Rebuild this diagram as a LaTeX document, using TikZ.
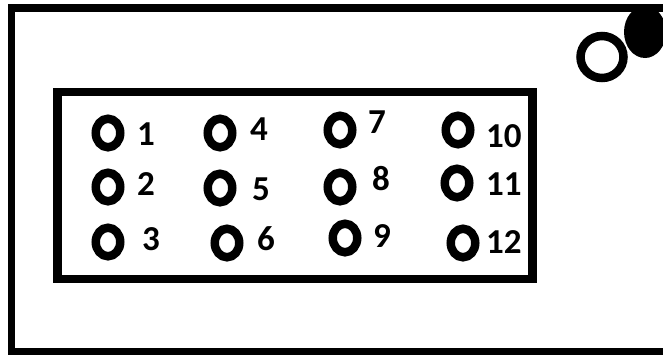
\documentclass[tikz,border=0pt]{standalone}
\usepackage{fontspec}
\setmainfont{Carlito}
\usetikzlibrary{shapes.geometric}

\begin{document}
\begin{tikzpicture}[
        x=1pt, y=-1pt,
        board/.style={draw, line width=7.5pt},
        panel/.style={draw, line width=8.5pt},
        pin/.style={
            ellipse, draw, line width=8.5pt, fill=white,
            minimum width=24.5pt, minimum height=28.5pt, inner sep=0pt
        },
        num/.style={
            font=\fontsize{35}{40}\selectfont\bfseries, inner sep=0pt, anchor=base west
        },
        ring/.style={
            ellipse, draw, line width=8.5pt, minimum width=43pt, minimum height=42pt, inner sep=0pt
        },
        dot/.style={
            ellipse, fill=black, minimum width=42pt, minimum height=52pt, inner sep=0pt
        }
    ]

    \clip (0,0) rectangle (663,356);
    \useasboundingbox (0,0) rectangle (663,356);

    % Outer board
    \draw[board] (11.5,8) rectangle (680,351.5);

    % Connector panel
    \draw[panel] (57.5,92) rectangle (532.5,279);

    % Pins 1-3
    \node[pin] (p1) at (108,133) {};
    \node[pin] (p2) at (108,187) {};
    \node[pin] (p3) at (108,242) {};
    \node[num] (n1) at (137,145) {1};
    \node[num] (n2) at (137,195) {2};
    \node[num] (n3) at (142,250) {3};

    % Pins 4-6
    \node[pin] (p4) at (220,133) {};
    \node[pin] (p5) at (220,188) {};
    \node[pin] (p6) at (227,243) {};
    \node[num] (n4) at (250,140) {4};
    \node[num] (n5) at (252,200) {5};
    \node[num] (n6) at (257,250) {6};

    % Pins 7-9
    \node[pin] (p7) at (340,130) {};
    \node[pin] (p8) at (340,187) {};
    \node[pin] (p9) at (345,238) {};
    \node[num] (n7) at (368,133) {7};
    \node[num] (n8) at (372,190) {8};
    \node[num] (n9) at (373,247) {9};

    % Pins 10-12
    \node[pin] (p10) at (458,130) {};
    \node[pin] (p11) at (457,183) {};
    \node[pin] (p12) at (463,243) {};
    \node[num] (n10) at (486,147) {10};
    \node[num] (n11) at (486,195) {11};
    \node[num] (n12) at (486,253) {12};

    % Corner marks
    \node[ring] (hole) at (602,57) {};
    \node[dot] (spot) at (645,32) {};

\end{tikzpicture}
\end{document}
